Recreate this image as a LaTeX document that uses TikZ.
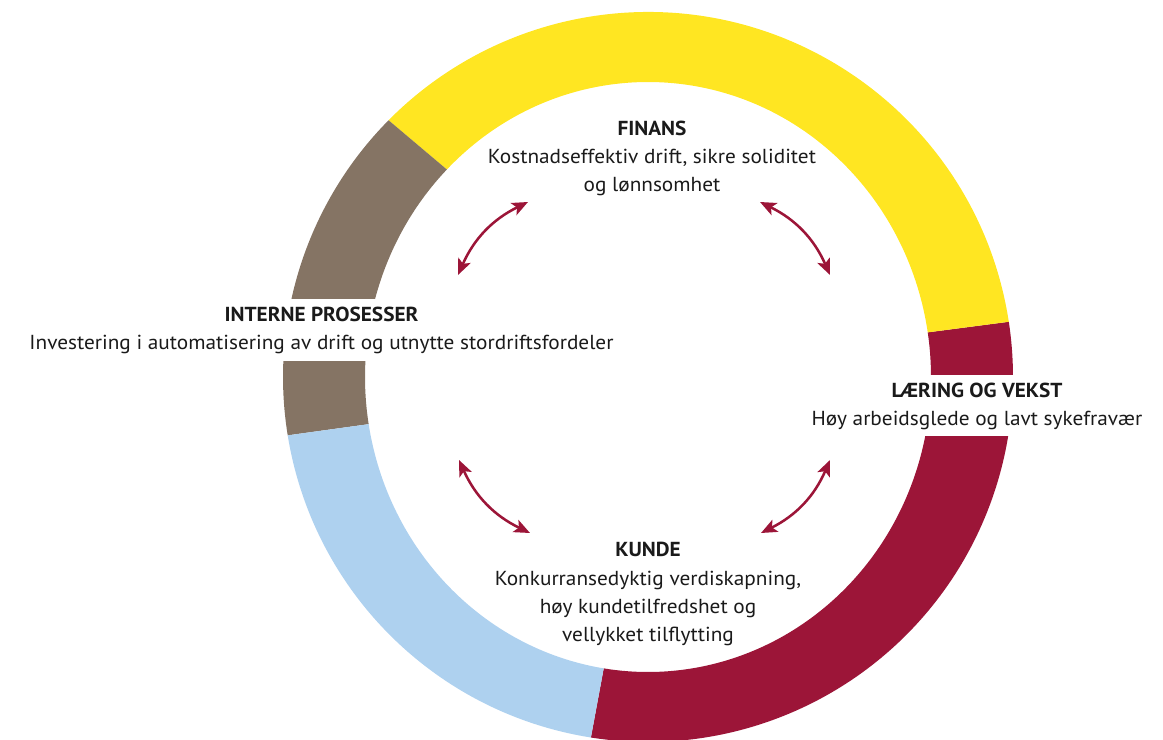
\documentclass[tikz,border=0pt]{standalone}
\usepackage{fontspec}
\setmainfont{PT Sans}[FakeStretch=1.05]
\usetikzlibrary{arrows.meta,calc}

\definecolor{ringyellow}{RGB}{255,230,34}
\definecolor{ringbrown}{RGB}{133,116,100}
\definecolor{ringred}{RGB}{156,21,56}
\definecolor{ringblue}{RGB}{174,209,239}
\definecolor{textdark}{RGB}{26,26,26}

% one coloured piece of the ring, between two angles
\newcommand\ringpart[3]{%
  \fill[#3] ($(c)+(#1:365)$) arc[start angle=#1,end angle=#2,radius=365]
    -- ($(c)+(#2:283 and 295)$) arc[start angle=#2,end angle=#1,x radius=283,y radius=295]
    -- cycle;}

\begin{document}
\begin{tikzpicture}[x=0.75pt,y=0.75pt,
  caption/.style={align=center, inner xsep=3pt, inner ysep=2pt,
    text=textdark, font=\fontsize{15.2}{21.2}\selectfont},
  gapcaption/.style={caption, fill=white},
  link/.style={draw=ringred, line width=1.9pt,
    {Stealth[length=12pt,width=10pt,inset=2.8pt]}-{Stealth[length=12pt,width=10pt,inset=2.8pt]},
    bend left=20}]
\useasboundingbox (0,0) rectangle (1163,739);
\coordinate (c) at (648,362);

% ring
\ringpart{-99}{8.7}{ringred}
\ringpart{8.7}{135.3}{ringyellow}
\ringpart{135.3}{189.2}{ringbrown}
\ringpart{189.2}{261}{ringblue}

% perspectives
\node[caption] (finans) at (652,581.3)
  {\textbf{FINANS}\strut\\Kostnadseffektiv drift, sikre soliditet\\og lønnsomhet\strut};
\node[gapcaption] (interne) at (321.5,409)
  {\textbf{INTERNE PROSESSER}\strut\\Investering i automatisering av drift og utnytte stordriftsfordeler\strut};
\node[gapcaption] (laering) at (977,333.5)
  {\textbf{LÆRING OG VEKST}\strut\\Høy arbeidsglede og lavt sykefravær\strut};
\node[caption] (kunde) at (648,145.5)
  {\textbf{KUNDE}\strut\\Konkurransedyktig verdiskapning,\\høy kundetilfredshet og\\vellykket tilflytting\strut};

% links between the perspectives
\coordinate (tl1) at (458,464);
\coordinate (tl2) at (528,537);
\coordinate (tr1) at (760,537);
\coordinate (tr2) at (830,464);
\coordinate (br1) at (830,279);
\coordinate (br2) at (761,206);
\coordinate (bl1) at (530,206);
\coordinate (bl2) at (459,279);
\draw[link] (tl1) to (tl2);
\draw[link] (tr1) to (tr2);
\draw[link] (br1) to (br2);
\draw[link] (bl1) to (bl2);
\end{tikzpicture}
\end{document}
